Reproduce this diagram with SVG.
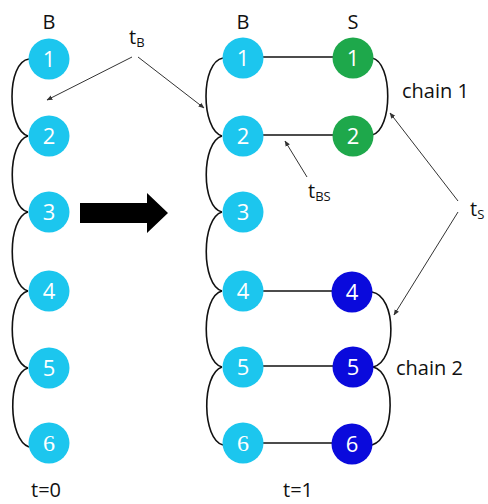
<svg xmlns="http://www.w3.org/2000/svg" width="488" height="504" viewBox="0 0 488 504">
<defs>
<marker id="ah" viewBox="0 0 10 10" refX="9" refY="5" markerWidth="6" markerHeight="6" orient="auto" markerUnits="userSpaceOnUse">
<path d="M0,1 L10,5 L0,9 z" fill="#333"/>
</marker>
</defs>
<style>
.b{fill:#1CC6EE}
.g{fill:#1EA84B}
.d{fill:#0A0ADC}
.n{font-family:"Open Sans","Liberation Sans",sans-serif;font-size:22px;fill:#fff;text-anchor:middle}
.ns{font-family:"Liberation Serif","DejaVu Serif",serif;font-size:24px;fill:#fff;text-anchor:middle}
.lbl{font-family:"Open Sans","Liberation Sans",sans-serif;font-size:20px;fill:#111}
.sub{font-size:13px}
.arc{fill:none;stroke:#111;stroke-width:1.6}
.hl{fill:none;stroke:#111;stroke-width:1.6}
.pt{fill:none;stroke:#333;stroke-width:1;marker-end:url(#ah)}
</style>
<rect width="488" height="504" fill="#fff"/>
<g id="connectors">
<path class="arc" d="M29,59 C6,62 7,130 28,136"/>
<path class="arc" d="M28,136 C7,142 7,208 28,212"/>
<path class="arc" d="M28,212 C7,218 7,285 28,291"/>
<path class="arc" d="M28,291 C7,296 7,362 28,368"/>
<path class="arc" d="M28,368 C7,374 8,440 29,447"/>
<path class="arc" d="M223,58 C200,62 201,130 222,136"/>
<path class="arc" d="M222,136 C201,142 201,208 222,212"/>
<path class="arc" d="M222,212 C201,218 201,285 222,291"/>
<path class="arc" d="M222,291 C201,296 201,362 222,367"/>
<path class="arc" d="M222,367 C201,374 202,440 223,445"/>
<path class="arc" d="M372,58 C393,62 393,130 372,135"/>
<path class="arc" d="M372,292 C397,296 397,362 373,367"/>
<path class="arc" d="M373,367 C396,372 396,438 372,445"/>
<path class="hl" d="M263,57 H333"/>
<path class="hl" d="M263,135 H333"/>
<path class="hl" d="M263,291 H333"/>
<path class="hl" d="M263,366 H333"/>
<path class="hl" d="M263,443 H333"/>
<path class="pt" d="M132,57 L47,100"/>
<path class="pt" d="M138,57 L204,108"/>
<path class="pt" d="M307,177 L285,141"/>
<path class="pt" d="M458,201 L390,113"/>
<path class="pt" d="M458,212 L394,315"/>
<path d="M80,203 H147 V193 L168,213 L147,233 V223 H80 z" fill="#000"/>
</g>
<g id="labels">
<text class="lbl" x="49" y="29" text-anchor="middle">B</text>
<text class="lbl" x="243" y="29" text-anchor="middle">B</text>
<text class="lbl" x="353" y="29" text-anchor="middle">S</text>
<text class="lbl" x="129" y="44">t<tspan class="sub" dy="3">B</tspan></text>
<text class="lbl" x="308" y="198">t<tspan class="sub" dy="3">BS</tspan></text>
<text class="lbl" x="470" y="216">t<tspan class="sub" dy="3">S</tspan></text>
<text class="lbl" x="402" y="98">chain 1</text>
<text class="lbl" x="396" y="375">chain 2</text>
<text class="lbl" x="46" y="497" text-anchor="middle" font-size="22">t=0</text>
<text class="lbl" x="298" y="497" text-anchor="middle" font-size="22">t=1</text>
</g>
<g id="L1"><circle class="b" cx="49" cy="59" r="20.5"/><text class="n" x="49" y="67">1</text></g>
<g id="L2"><circle class="b" cx="49" cy="136" r="20.5"/><text class="n" x="49" y="144">2</text></g>
<g id="L3"><circle class="b" cx="49" cy="212" r="20.5"/><text class="n" x="49" y="220">3</text></g>
<g id="L4"><circle class="b" cx="49" cy="291" r="20.5"/><text class="n" x="49" y="299">4</text></g>
<g id="L5"><circle class="b" cx="49" cy="368" r="20.5"/><text class="n" x="49" y="376">5</text></g>
<g id="L6"><circle class="b" cx="49" cy="443" r="20.5"/><text class="ns" x="49" y="451">6</text></g>
<g id="RB1"><circle class="b" cx="243" cy="58" r="20.5"/><text class="n" x="243" y="66">1</text></g>
<g id="RB2"><circle class="b" cx="243" cy="136" r="20.5"/><text class="n" x="243" y="144">2</text></g>
<g id="RB3"><circle class="b" cx="243" cy="212" r="20.5"/><text class="n" x="243" y="220">3</text></g>
<g id="RB4"><circle class="b" cx="243" cy="291" r="20.5"/><text class="n" x="243" y="299">4</text></g>
<g id="RB5"><circle class="b" cx="243" cy="367" r="20.5"/><text class="n" x="243" y="375">5</text></g>
<g id="RB6"><circle class="b" cx="243" cy="443" r="20.5"/><text class="ns" x="243" y="451">6</text></g>
<g id="S1"><circle class="g" cx="353" cy="58" r="20.5"/><text class="n" x="353" y="66">1</text></g>
<g id="S2"><circle class="g" cx="353" cy="136" r="20.5"/><text class="n" x="353" y="144">2</text></g>
<g id="S4"><circle class="d" cx="352" cy="292" r="20.5"/><text class="n" x="352" y="300">4</text></g>
<g id="S5"><circle class="d" cx="353" cy="367" r="20.5"/><text class="n" x="353" y="375">5</text></g>
<g id="S6"><circle class="d" cx="352" cy="444" r="20.5"/><text class="n" x="352" y="452">6</text></g>
</svg>
